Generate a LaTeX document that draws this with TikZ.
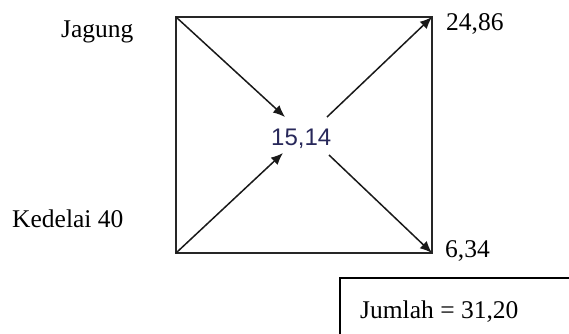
\documentclass[tikz,border=0pt]{standalone}
\usepackage{fontspec}
\setmainfont{Liberation Serif}
\newfontfamily\arialfont{Liberation Sans}
\usetikzlibrary{arrows.meta}
\definecolor{midtext}{RGB}{40,40,90}
\tikzset{
  lbl/.style={anchor=base west, inner sep=0pt, font=\fontsize{25.5}{28}\selectfont},
  sq/.style={draw=black!85, line width=1.8pt},
  arr/.style={draw=black!90, line width=1.5pt, -{Latex[length=12pt,width=10pt]}},
}
\begin{document}
\begin{tikzpicture}[x=1pt,y=-1pt]
\useasboundingbox (0,0) rectangle (569,333);
\clip (0,0) rectangle (569,333);
% square corners
\coordinate (A) at (176,17);
\coordinate (B) at (432,17);
\coordinate (C) at (176,253);
\coordinate (D) at (432,253);
\draw[sq] (A) -- (B) -- (D) -- (C) -- cycle;
% centre value
\node[anchor=base west, inner sep=0pt, text=midtext, font=\arialfont\fontsize{24}{27}\selectfont] (mid) at (271,145) {15,14};
\coordinate (inTL) at (285,117);
\coordinate (inBL) at (283,153);
\coordinate (outTR) at (327,117);
\coordinate (outBR) at (329,155);
\draw[arr] (A) -- (inTL);
\draw[arr] (C) -- (inBL);
\draw[arr] (outTR) -- (B);
\draw[arr] (outBR) -- (D);
% labels
\node[lbl] (jagung) at (61,37) {Jagung};
\node[lbl] (kedelai) at (12,227) {Kedelai 40};
\node[lbl] (v1) at (446,30) {24,86};
\node[lbl] (v2) at (445,257) {6,34};
% sum box
\draw[line width=1.2pt] (340,345) -- (340,278) -- (580,278);
\node[lbl] (sum) at (360,318) {Jumlah = 31,20};
\end{tikzpicture}
\end{document}
